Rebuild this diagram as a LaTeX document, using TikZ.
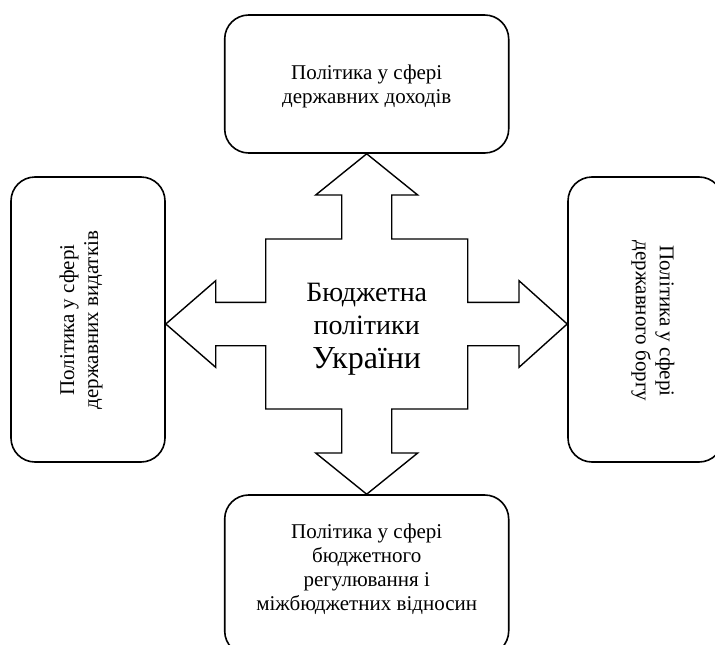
\documentclass[tikz,border=0pt]{standalone}
\usepackage{fontspec}
\setmainfont{Liberation Serif}
\usetikzlibrary{calc}
\begin{document}
\begin{tikzpicture}[x=1pt,y=-1pt,
  box/.style={draw=black, line width=1.6pt, rounded corners=24pt, fill=none, inner sep=0pt},
  boxtext/.style={align=center, font=\fontsize{21}{24}\selectfont, inner sep=0pt},
  cross/.style={draw=black, line width=1.4pt, line join=miter, fill=white},
  centertext/.style={align=center, inner sep=0pt, font=\fontsize{28}{33.5}\selectfont}]
\useasboundingbox (0,0) rectangle (715,645);
\clip (0,0) rectangle (715,645);
\fill[white] (0,0) rectangle (715,645);
% boxes
\node[box, minimum width=284pt, minimum height=138pt] (top) at (366.7,84) {};
\node[box, minimum width=284pt, minimum height=160pt] (bot) at (366.7,575) {};
\node[box, minimum width=154pt, minimum height=285pt] (left) at (88,319.5) {};
\node[box, minimum width=155pt, minimum height=285pt] (right) at (645.5,319.5) {};
% box texts
\node[boxtext] (toptext) at (366.7,86) {Політика у сфері\\державних доходів};
\node[boxtext] (bottext) at (366.7,569) {Політика у сфері\\бюджетного\\регулювання і\\міжбюджетних відносин};
\node[boxtext, rotate=90] (lefttext) at (81,320) {Політика у сфері\\державних видатків};
\node[boxtext, rotate=-90] (righttext) at (653,321) {Політика у сфері\\державного боргу};
% central cross-shaped arrow
\coordinate (c) at (366.7,324);
\draw[cross] (top.south)
  -- ($(c)+(51,-129)$) -- ($(c)+(25,-129)$) -- ($(c)+(25,-85)$)
  -- ($(c)+(101,-85)$) -- ($(c)+(101,-21.7)$) -- ($(c)+(152.3,-21.7)$)
  -- ($(c)+(152.3,-43.3)$) -- (right.west |- c)
  -- ($(c)+(152.3,43.3)$) -- ($(c)+(152.3,21.7)$) -- ($(c)+(101,21.7)$)
  -- ($(c)+(101,85)$) -- ($(c)+(25,85)$) -- ($(c)+(25,129)$)
  -- ($(c)+(51,129)$) -- (bot.north)
  -- ($(c)+(-51,129)$) -- ($(c)+(-25,129)$) -- ($(c)+(-25,85)$)
  -- ($(c)+(-101,85)$) -- ($(c)+(-101,21.7)$) -- ($(c)+(-151,21.7)$)
  -- ($(c)+(-151,43.3)$) -- (left.east |- c)
  -- ($(c)+(-151,-43.3)$) -- ($(c)+(-151,-21.7)$) -- ($(c)+(-101,-21.7)$)
  -- ($(c)+(-101,-85)$) -- ($(c)+(-25,-85)$) -- ($(c)+(-25,-129)$)
  -- ($(c)+(-51,-129)$) -- cycle;
\node[centertext] (center) at (366.7,329) {Бюджетна\\політики\\{\fontsize{32}{33.5}\selectfont України}};
\end{tikzpicture}
\end{document}
